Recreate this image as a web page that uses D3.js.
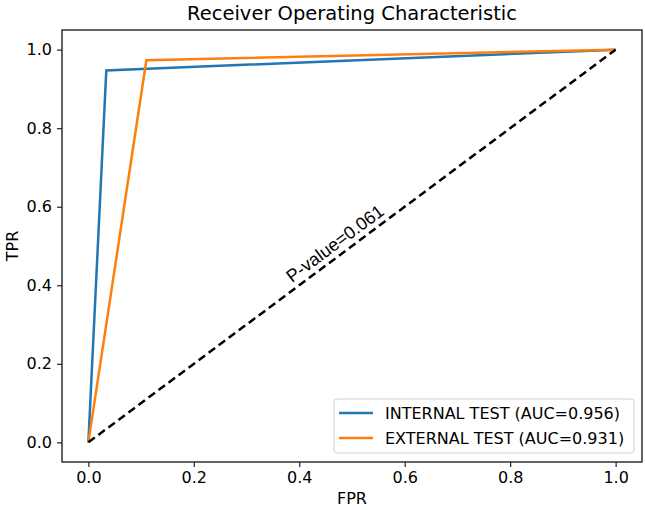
<!DOCTYPE html>
<html>
<head>
<meta charset="utf-8">
<script src="https://cdn.jsdelivr.net/npm/d3@7"></script>
<style>
  body { margin: 0; background: #fff; }
  svg text { font-family: "DejaVu Sans", sans-serif; fill: #000; }
</style>
</head>
<body>
<svg id="chart"></svg>
<script>
const CHART_TITLE = 'Receiver Operating Characteristic';
const SERIES_NAMES = ['INTERNAL TEST (AUC=0.956)', 'EXTERNAL TEST (AUC=0.931)'];
const SERIES_COLORS = ['#1f77b4', '#ff7f0e'];
const INTERNAL_FPR = [0, 0.034, 1];
const INTERNAL_TPR = [0, 0.947, 1];
const EXTERNAL_FPR = [0, 0.11, 1];
const EXTERNAL_TPR = [0, 0.973, 1];
const CHANCE_LINE = [0, 1];
const TICKS = [0, 0.2, 0.4, 0.6, 0.8, 1.0];
const ANNOTATION = { text: 'P-value=0.061', x: 0.386, y: 0.405 };

const WIDTH = 645, HEIGHT = 510;
const MARGIN = { LEFT: 62, RIGHT: 3, TOP: 30, BOTTOM: 48 };

const svg = d3.select('#chart').attr('width', WIDTH).attr('height', HEIGHT);

const x = d3.scaleLinear([-0.05, 1.05], [MARGIN.LEFT, WIDTH - MARGIN.RIGHT]);
const y = d3.scaleLinear([-0.05, 1.05], [HEIGHT - MARGIN.BOTTOM, MARGIN.TOP]);

const toPoints = (xs, ys) => xs.map((v, i) => [v, ys[i]]);

const line = d3.line().x((d) => x(d[0])).y((d) => y(d[1]));

// curves
const series = [toPoints(INTERNAL_FPR, INTERNAL_TPR), toPoints(EXTERNAL_FPR, EXTERNAL_TPR)];
series.forEach((pts, i) => {
  svg.append('path').datum(pts)
    .attr('d', line)
    .attr('fill', 'none')
    .attr('stroke', SERIES_COLORS[i])
    .attr('stroke-width', 2.5);
});

svg.append('path').datum(toPoints(CHANCE_LINE, CHANCE_LINE))
  .attr('d', line)
  .attr('fill', 'none')
  .attr('stroke', '#000')
  .attr('stroke-width', 2.5)
  .attr('stroke-dasharray', '8,4.5');

// annotation, rotated along the chance line
const angle = Math.atan2(y(0) - y(1), x(1) - x(0)) * 180 / Math.PI;
svg.append('text')
  .attr('transform', `translate(${x(ANNOTATION.x)},${y(ANNOTATION.y)}) rotate(${-angle})`)
  .style('font-family', '"Liberation Sans", Arial, sans-serif')
  .style('font-size', '18px')
  .text(ANNOTATION.text);

// axes
const xAxis = d3.axisBottom(x).tickValues(TICKS).tickFormat(d3.format('.1f')).tickSize(5).tickPadding(5);
const yAxis = d3.axisLeft(y).tickValues(TICKS).tickFormat(d3.format('.1f')).tickSize(5).tickPadding(5);

const gx = svg.append('g').attr('transform', `translate(0,${HEIGHT - MARGIN.BOTTOM})`).call(xAxis);
const gy = svg.append('g').attr('transform', `translate(${MARGIN.LEFT},0)`).call(yAxis);
[gx, gy].forEach((g) => {
  g.select('.domain').remove();
  g.selectAll('text').style('font-family', '"DejaVu Sans", sans-serif').style('font-size', '16px').attr('fill', '#222');
  g.selectAll('line').attr('stroke', '#222').attr('stroke-width', 1.2);
});

svg.append('rect')
  .attr('x', MARGIN.LEFT).attr('y', MARGIN.TOP)
  .attr('width', WIDTH - MARGIN.LEFT - MARGIN.RIGHT)
  .attr('height', HEIGHT - MARGIN.TOP - MARGIN.BOTTOM)
  .attr('fill', 'none').attr('stroke', '#222').attr('stroke-width', 1.4);

// labels
svg.append('text')
  .attr('x', (MARGIN.LEFT + WIDTH - MARGIN.RIGHT) / 2).attr('y', 20)
  .attr('text-anchor', 'middle').style('font-size', '19.5px')
  .text(CHART_TITLE);
svg.append('text')
  .attr('x', (MARGIN.LEFT + WIDTH - MARGIN.RIGHT) / 2).attr('y', 504)
  .attr('text-anchor', 'middle').style('font-size', '16px')
  .text('FPR');
svg.append('text')
  .attr('transform', `translate(18,${(MARGIN.TOP + HEIGHT - MARGIN.BOTTOM) / 2}) rotate(-90)`)
  .attr('text-anchor', 'middle').style('font-size', '16px')
  .text('TPR');

// legend
const legend = svg.append('g').attr('transform', 'translate(334,399)');
legend.append('rect')
  .attr('width', 300).attr('height', 54).attr('rx', 3)
  .attr('fill', '#fff').attr('fill-opacity', 0.8)
  .attr('stroke', '#d0d0d0').attr('stroke-width', 1);
SERIES_NAMES.forEach((name, i) => {
  const row = legend.append('g').attr('transform', `translate(0,${14 + i * 25})`);
  row.append('line').attr('x1', 5).attr('x2', 39).attr('y1', 0).attr('y2', 0)
    .attr('stroke', SERIES_COLORS[i]).attr('stroke-width', 2.5);
  row.append('text').attr('x', 51).attr('y', 6)
    .style('font-size', '16px').attr('fill', '#222')
    .text(name);
});
</script>
</body>
</html>
